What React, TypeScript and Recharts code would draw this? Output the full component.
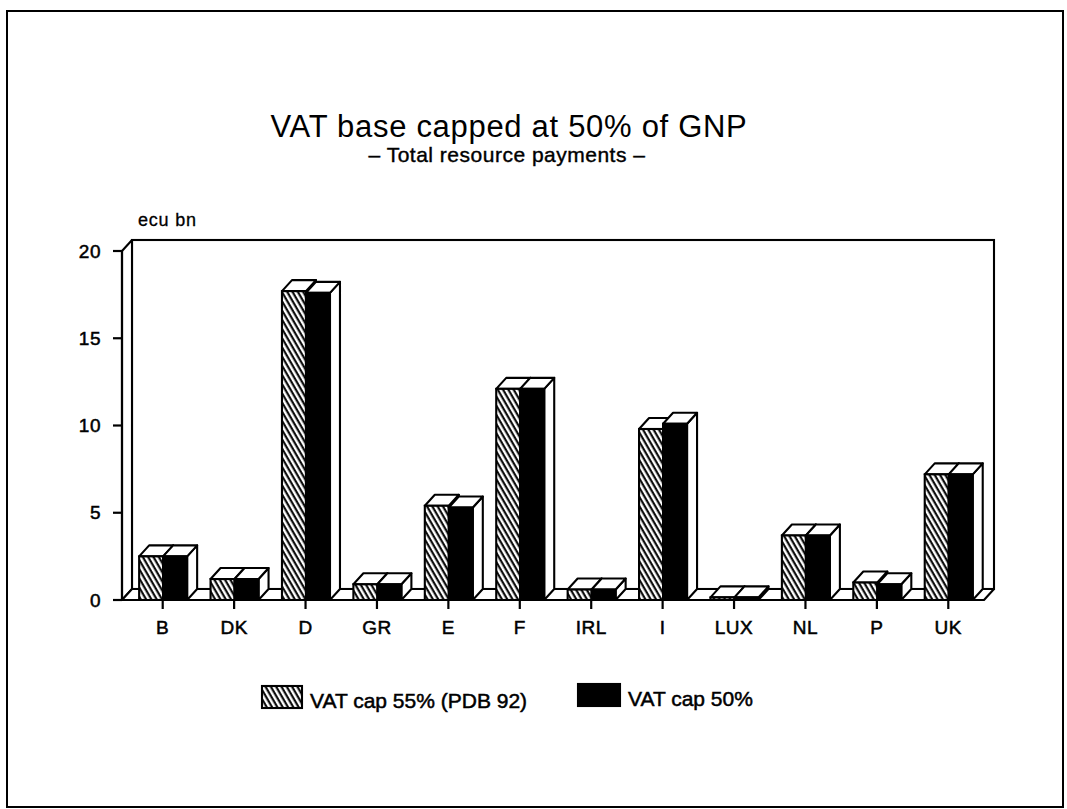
import React from 'react';
import { BarChart, Bar, XAxis, YAxis, ReferenceArea } from 'recharts';

const categories = ['B', 'DK', 'D', 'GR', 'E', 'F', 'IRL', 'I', 'LUX', 'NL', 'P', 'UK'];
const vat55 = [2.5, 1.2, 17.7, 0.9, 5.4, 12.1, 0.6, 9.8, 0.15, 3.7, 1.0, 7.2];
const vat50 = [2.5, 1.2, 17.6, 0.9, 5.3, 12.1, 0.6, 10.1, 0.15, 3.7, 0.9, 7.2];
const yTicks = [0, 5, 10, 15, 20];
const seriesNames = ['VAT cap 55% (PDB 92)', 'VAT cap 50%'];
const titleText = 'VAT base capped at 50% of GNP';
const subtitleText = '\u2013 Total resource payments \u2013';
const unitText = 'ecu bn';

const data = categories.map((c, i) => ({ name: c, vat55: vat55[i], vat50: vat50[i] }));

const DX = 10;
const DY = 11;
const SW = 2.1;
const PAD_LEFT = 5;
const FONT = '"Liberation Sans", Arial, sans-serif';

function Box3D(props: any) {
  const { x, y, width, height, fill } = props;
  if (x == null || y == null) return null;
  const w = width;
  const h = Math.max(height, 0);
  const top = `${x},${y} ${x + DX},${y - DY} ${x + w + DX},${y - DY} ${x + w},${y}`;
  const side = `${x + w},${y} ${x + w + DX},${y - DY} ${x + w + DX},${y + h - DY} ${x + w},${y + h}`;
  return (
    <g>
      <polygon points={side} fill="#fff" stroke="#000" strokeWidth={SW} strokeLinejoin="round" />
      <polygon points={top} fill="#fff" stroke="#000" strokeWidth={SW} strokeLinejoin="round" />
      <rect x={x} y={y} width={w} height={h} fill={fill} stroke="#000" strokeWidth={SW} />
    </g>
  );
}

function Walls(props: any) {
  const { x, y, width, height } = props;
  if (x == null) return null;
  const L = x - PAD_LEFT;
  const R = x + width;
  const T = y;
  const B = y + height;
  return (
    <g>
      <rect x={L + DX} y={T - DY} width={R - L} height={B - T} fill="#fff" stroke="#000" strokeWidth={SW} />
      <polygon
        points={`${L},${T} ${L + DX},${T - DY} ${L + DX},${B - DY} ${L},${B}`}
        fill="#fff"
        stroke="#000"
        strokeWidth={SW}
        strokeLinejoin="round"
      />
      <polygon
        points={`${L},${B} ${L + DX},${B - DY} ${R + DX},${B - DY} ${R},${B}`}
        fill="#fff"
        stroke="#000"
        strokeWidth={SW}
        strokeLinejoin="round"
      />
    </g>
  );
}

function HatchDef({ id }: { id: string }) {
  return (
    <pattern id={id} patternUnits="userSpaceOnUse" width={4.6} height={4.6} patternTransform="rotate(-30)">
      <rect x={0} y={0} width={4.6} height={4.6} fill="#fff" />
      <line x1={1.6} y1={-1} x2={1.6} y2={6} stroke="#000" strokeWidth={2.1} />
    </pattern>
  );
}

const tickStyle = { fill: '#000', fontSize: 19, fontFamily: FONT, stroke: '#000', strokeWidth: 0.5, letterSpacing: 0.5 };

export default function App() {
  return (
    <div style={{ position: 'absolute', left: 0, top: 0, width: 1067, height: 809, background: '#fff' }}>
      <BarChart
        width={1067}
        height={809}
        data={data}
        margin={{ top: 251, right: 83, bottom: 169, left: 62 }}
        barCategoryGap="17%"
        barGap={0}
        style={{ position: 'absolute', left: 0, top: 0 }}
      >
        <defs>
          <HatchDef id="hatchBars" />
        </defs>
        <ReferenceArea y1={0} y2={20} shape={<Walls />} ifOverflow="visible" />
        <XAxis
          dataKey="name"
          height={40}
          padding={{ left: PAD_LEFT, right: 0 }}
          tickSize={9}
          tickMargin={12}
          tick={tickStyle}
          axisLine={{ stroke: '#000', strokeWidth: 2.2 }}
          tickLine={{ stroke: '#000', strokeWidth: 2.2 }}
          interval={0}
        />
        <YAxis
          width={60}
          domain={[0, 20]}
          ticks={yTicks}
          tickSize={9}
          tickMargin={12}
          tick={tickStyle}
          axisLine={{ stroke: '#000', strokeWidth: 2.2 }}
          tickLine={{ stroke: '#000', strokeWidth: 2.2 }}
          allowDataOverflow
        />
        <Bar dataKey="vat55" name={seriesNames[0]} fill="url(#hatchBars)" shape={<Box3D />} isAnimationActive={false} />
        <Bar dataKey="vat50" name={seriesNames[1]} fill="#000" shape={<Box3D />} isAnimationActive={false} />
      </BarChart>
      <svg
        width={1067}
        height={809}
        style={{ position: 'absolute', left: 0, top: 0, pointerEvents: 'none' }}
      >
        <defs>
          <HatchDef id="hatchLegend" />
        </defs>
        <rect x={7} y={11} width={1056} height={796} fill="none" stroke="#000" strokeWidth={2} />
        <text x={509} y={137} textAnchor="middle" fontFamily={FONT} fontSize={31} letterSpacing={0.7} fill="#000">
          {titleText}
        </text>
        <text
          x={507}
          y={162}
          textAnchor="middle"
          fontFamily={FONT}
          fontSize={21}
          letterSpacing={0.5}
          fill="#000"
          stroke="#000"
          strokeWidth={0.4}
        >
          {subtitleText}
        </text>
        <text x={138} y={226} fontFamily={FONT} fontSize={18} fill="#000" letterSpacing={0.8} stroke="#000" strokeWidth={0.3}>
          {unitText}
        </text>
        <rect x={262} y={686} width={40} height={22} fill="url(#hatchLegend)" stroke="#000" strokeWidth={SW} />
        <text x={310} y={708} fontFamily={FONT} fontSize={21} fill="#000" stroke="#000" strokeWidth={0.5}>
          {seriesNames[0]}
        </text>
        <rect x={578} y={684} width={42} height={22} fill="#000" stroke="#000" strokeWidth={SW} />
        <text x={628} y={706} fontFamily={FONT} fontSize={21} fill="#000" stroke="#000" strokeWidth={0.5}>
          {seriesNames[1]}
        </text>
      </svg>
    </div>
  );
}
